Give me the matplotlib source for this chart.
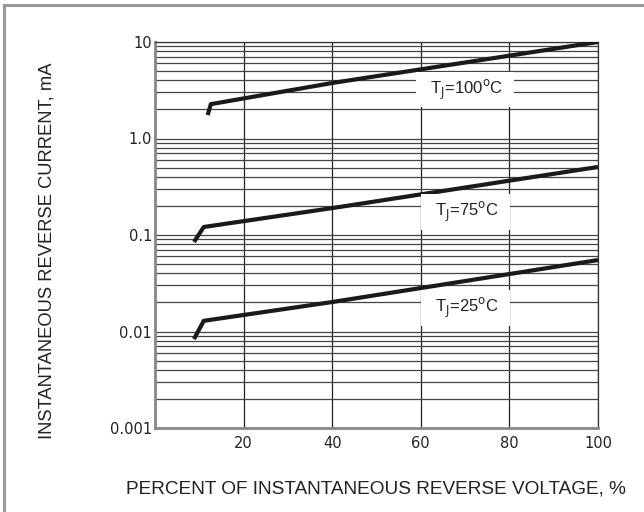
import matplotlib.pyplot as plt
from matplotlib.lines import Line2D
from matplotlib.ticker import LogLocator, FixedLocator, NullFormatter

plt.rcParams['font.family'] = ['Liberation Sans', 'DejaVu Sans']

# curves (percent of rated voltage, mA)
x_100 = [11.9, 12.6, 40, 100]
y_100 = [1.75, 2.27, 3.76, 10.0]
x_75 = [8.8, 11.0, 40, 100]
y_75 = [0.0846, 0.121, 0.19, 0.507]
x_25 = [8.8, 11.0, 40, 100]
y_25 = [0.00835, 0.0129, 0.0202, 0.055]

labels = [r'  T$_\mathrm{J}$=100$^\mathrm{o}$C  ', r'  T$_\mathrm{J}$=75$^\mathrm{o}$C  ', r'  T$_\mathrm{J}$=25$^\mathrm{o}$C  ']
label_pos = [(70, 3.2), (70, 0.173), (70, 0.0175)]

xticks = [20, 40, 60, 80, 100]
yticks = [0.001, 0.01, 0.1, 1.0, 10]
yticklabels = ['0.001', '0.01', '0.1', '1.0', '10']

fig = plt.figure(figsize=(6.44, 5.12), dpi=100)
ax = fig.add_axes([155/644, 84/512, 443/644, 386/512])

# partial frame (top and left edges only)
fig.add_artist(Line2D([4/644, 1], [1 - 5/512, 1 - 5/512], transform=fig.transFigure,
                      color='#999999', linewidth=2.2))
fig.add_artist(Line2D([4/644, 4/644], [0, 1 - 5/512], transform=fig.transFigure,
                      color='#999999', linewidth=2.2))

ax.set_yscale('log')
ax.set_xlim(0, 100)
ax.set_ylim(0.001, 10)

ax.xaxis.set_major_locator(FixedLocator(xticks))
ax.set_xticklabels([str(t) for t in xticks])
ax.yaxis.set_major_locator(FixedLocator(yticks))
ax.set_yticklabels(yticklabels)
ax.yaxis.set_minor_locator(LogLocator(base=10, subs=range(2, 10)))
ax.yaxis.set_minor_formatter(NullFormatter())

ax.grid(True, which='major', axis='x', color='#222222', linewidth=0.9)
ax.grid(True, which='both', axis='y', color='#444444', linewidth=0.9)
ax.tick_params(which='both', length=0, colors='#222222')
ax.tick_params(axis='y', pad=2)
ax.tick_params(axis='x', pad=6)
for t in ax.get_xticklabels() + ax.get_yticklabels():
    t.set_fontfamily('DejaVu Sans')
    t.set_fontsize(10.5)

for s in ['left', 'bottom']:
    ax.spines[s].set_color('#888888')
    ax.spines[s].set_linewidth(2)
for s in ['top', 'right']:
    ax.spines[s].set_color('#333333')
    ax.spines[s].set_linewidth(0.9)

for xs, ys in [(x_100, y_100), (x_75, y_75), (x_25, y_25)]:
    ax.plot(xs, ys, color='#1a1a1a', linewidth=3, solid_capstyle='butt', zorder=3)

for lab, (lx, ly) in zip(labels, label_pos):
    ax.text(lx, ly, lab, fontsize=12, color='#222222', ha='center', va='center', zorder=4,
            bbox=dict(facecolor='white', edgecolor='none', pad=4))

fig.text(376/644, 1 - 489/512, 'PERCENT OF INSTANTANEOUS REVERSE VOLTAGE, %',
         fontsize=13.7, color='#222222', ha='center', va='center')
fig.text(47/644, 1 - 251/512, 'INSTANTANEOUS REVERSE CURRENT, mA',
         fontsize=13.2, color='#222222', ha='center', va='center', rotation=90)

fig.savefig('out.png', dpi=100)
